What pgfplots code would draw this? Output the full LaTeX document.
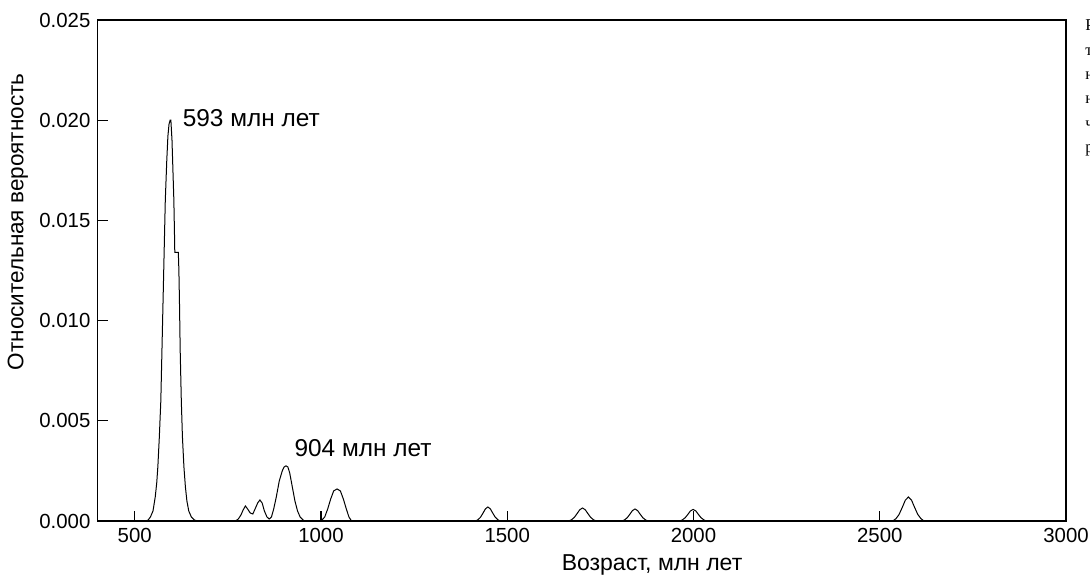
\documentclass[border=0pt]{standalone}
\usepackage{pgfplots}
\pgfplotsset{compat=1.18}
\usepackage{fontspec}
\setmainfont{Liberation Sans}
\newfontfamily\capserif{Liberation Serif}

\begin{document}
\begin{tikzpicture}
\begin{axis}[
  at={(0,0)}, anchor=south west,
  width=484.25pt, height=250.5pt, scale only axis,
  xmin=400, xmax=3000, ymin=0, ymax=0.025,
  xtick={500,1000,1500,2000,2500,3000},
  ytick={0,0.005,0.01,0.015,0.02,0.025},
  tick align=inside, xtick pos=bottom, ytick pos=left,
  major tick length=5pt,
  scaled x ticks=false, scaled y ticks=false,
  /pgf/number format/assume math mode=true,
  xticklabel style={/pgf/number format/1000 sep={}, font=\fontsize{10.2}{12}\selectfont},
  yticklabel style={/pgf/number format/.cd, fixed, fixed zerofill, precision=3, /tikz/.cd, font=\fontsize{10.2}{12}\selectfont},
  axis line style={line width=0.6pt},
  every tick/.style={line width=0.6pt, black},
  xlabel={Возраст, млн лет},
  ylabel={Относительная вероятность},
  xlabel style={at={(axis description cs:0.5726,-0.0878)}, anchor=center, font=\fontsize{11.5}{13}\selectfont},
  ylabel style={at={(axis description cs:-0.0821,0.597)}, anchor=center, font=\fontsize{11.25}{13}\selectfont},
  clip=false,
]
\addplot[black, line width=0.5pt] coordinates {
(400,0) (530,0) (536,0.00005) (542,0.0002) (549,0.0005) (555,0.0012) (559,0.0019)
(562,0.0027) (566,0.0042) (570,0.0060) (573,0.0085) (576,0.0110) (579,0.0135)
(582,0.0160) (586,0.0180) (589,0.0192) (592,0.0198) (595,0.0200) (597,0.0200)
(600,0.0190) (603,0.0172) (605,0.0160) (607,0.0140) (607.5,0.0134) (617,0.0134)
(618.5,0.0125) (620,0.0110) (622,0.0085) (625,0.0060) (628,0.0042) (632,0.0027)
(636,0.0017) (640,0.0010) (645,0.0005) (652,0.0002) (660,0.00005) (669,0)
(770,0) (778,0.0001) (785,0.0003) (791,0.00055) (797,0.00075) (803,0.0006)
(810,0.0004) (817,0.00035) (823,0.0006) (830,0.0009) (836,0.00105) (842,0.0009)
(848,0.0005) (855,0.0002) (861,0.0001) (867,0.0002) (873,0.0006) (880,0.0012)
(888,0.0020) (896,0.0025) (901,0.0027) (906,0.00275) (911,0.0027) (916,0.0024)
(923,0.0017) (930,0.0010) (937,0.0005) (944,0.0002) (955,0)
(1000,0) (1010,0.0002) (1018,0.0006) (1026,0.0011) (1034,0.0015) (1043,0.0016)
(1052,0.0015) (1060,0.0011) (1068,0.0006) (1075,0.0002) (1082,0)
(1415,0) (1421.6,0.000068) (1428.2,0.000189) (1434.8,0.00039) (1441.4,0.000605) (1448,0.0007)
(1454.6,0.000605) (1461.2,0.00039) (1467.8,0.000189) (1474.4,0.000068) (1481,0)
(1665,0) (1672.4,0.000063) (1679.8,0.000176) (1687.2,0.000362) (1694.6,0.000562) (1702,0.00065)
(1709.4,0.000562) (1716.8,0.000362) (1724.2,0.000176) (1731.6,0.000063) (1739,0)
(1808,0) (1815,0.000058) (1822,0.000162) (1829,0.000334) (1836,0.000518) (1843,0.0006)
(1850,0.000518) (1857,0.000334) (1864,0.000162) (1871,0.000058) (1878,0)
(1963,0) (1970.2,0.000056) (1977.4,0.000157) (1984.6,0.000323) (1991.8,0.000501) (1999,0.00058)
(2006.2,0.000501) (2013.4,0.000323) (2020.6,0.000157) (2027.8,0.000056) (2035,0)
(2535,0) (2543.4,0.000116) (2551.8,0.000324) (2560.2,0.000668) (2568.6,0.001037) (2577,0.0012)
(2585.4,0.001037) (2593.8,0.000668) (2602.2,0.000324) (2610.6,0.000116) (2619,0)
(3000,0)
};
\node[anchor=west, inner sep=0pt, font=\fontsize{12.2}{14}\selectfont] at (axis cs:628,0.0201) {593 млн лет};
\node[anchor=west, inner sep=0pt, font=\fontsize{12.2}{14}\selectfont] at (axis cs:928,0.00362) {904 млн лет};
\end{axis}
\begin{scope}
\clip (490pt,-29pt) rectangle (496.25pt,260.5pt);
\begin{scope}[every node/.style={anchor=base west, inner sep=0pt, font=\capserif\fontsize{8.3}{10}\selectfont}]
\node at (493.75pt,245pt) {Рис. 4.};
\node at (493.75pt,232.85pt) {точки};
\node at (493.75pt,220.7pt) {на};
\node at (493.75pt,208.55pt) {на};
\node at (493.75pt,196.4pt) {числа};
\node at (493.75pt,184.25pt) {рас};
\end{scope}
\end{scope}
\pgfresetboundingbox
\path[use as bounding box] (-48.75pt,-29pt) rectangle (496.25pt,260.5pt);
\end{tikzpicture}
\end{document}
